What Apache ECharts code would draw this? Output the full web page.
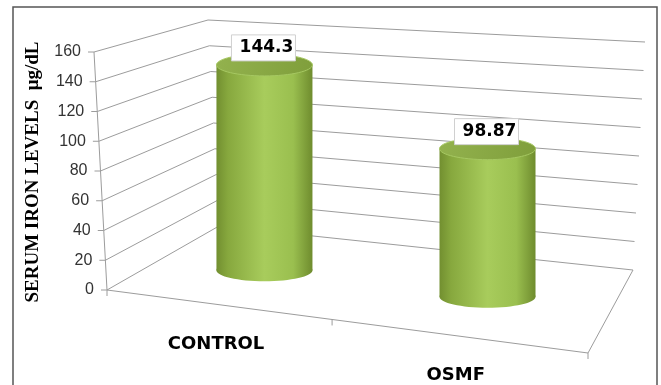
<!DOCTYPE html>
<html>
<head>
<meta charset="utf-8">
<script src="https://cdn.jsdelivr.net/npm/echarts@6/dist/echarts.min.js"></script>
<style>
html,body{margin:0;padding:0;background:#fff;}
#chart{width:661px;height:385px;}
</style>
</head>
<body>
<div id="chart"></div>
<script>
// ---- data ----
const categories = ['CONTROL', 'OSMF'];
const values = [144.3, 98.87];
const valueLabels = ['144.3', '98.87'];
const yTicks = [0, 20, 40, 60, 80, 100, 120, 140, 160];
const yTitle = 'SERUM IRON LEVELS  \u03bcg/dL';

// ---- perspective box (layout only) ----
const C = {
  FLB: [107, 290], FLT: [94, 52],
  FRB: [588, 353], FRT: [602, 88],
  BLB: [219, 226], BLT: [208, 20],
  BRB: [633, 270], BRT: [645, 42]
};
function lerp(a, b, s) { return [a[0] + (b[0] - a[0]) * s, a[1] + (b[1] - a[1]) * s]; }
function warp(u) { const k = 1.137; return u / (u + k * (1 - u)); }
function P(u, d, t) {
  const fb = lerp(C.FLB, C.FRB, u), ft = lerp(C.FLT, C.FRT, u);
  const bb = lerp(C.BLB, C.BRB, u), bt = lerp(C.BLT, C.BRT, u);
  const f = lerp(fb, ft, t), b = lerp(bb, bt, t);
  return lerp(f, b, d);
}
const GRID = '#9c9c9c';

function tOf(api, cs, v) {
  const y0 = api.coord([0, 0])[1];
  const yv = api.coord([0, v])[1];
  return (y0 - yv) / cs.height;
}

function renderGrid(params, api) {
  const cs = params.coordSys;
  const v = api.value(1);
  const t = tOf(api, cs, v);
  const a = P(0, 0, t), b = P(0, 1, t), c = P(1, 1, t);
  const ch = [
    { type: 'polyline', shape: { points: [a, b, c] }, style: { stroke: GRID, lineWidth: 1, fill: null } },
    { type: 'line', shape: { x1: a[0] - 6, y1: a[1], x2: a[0], y2: a[1] }, style: { stroke: GRID, lineWidth: 1 } },
    { type: 'text', style: { text: String(v), x: a[0] - 13, y: a[1], align: 'right', verticalAlign: 'middle',
        font: '16px "Liberation Sans", Arial, sans-serif', fill: '#333333' } }
  ];
  if (params.dataIndex === 0) {
    const fl = P(0, 0, 0), fr = P(1, 0, 0), br = P(1, 1, 0), lt = P(0, 0, 1);
    ch.push({ type: 'line', shape: { x1: fl[0], y1: fl[1], x2: fr[0], y2: fr[1] }, style: { stroke: GRID, lineWidth: 1 } });
    ch.push({ type: 'line', shape: { x1: fr[0], y1: fr[1], x2: br[0], y2: br[1] }, style: { stroke: GRID, lineWidth: 1 } });
    ch.push({ type: 'line', shape: { x1: fl[0], y1: fl[1], x2: lt[0], y2: lt[1] }, style: { stroke: GRID, lineWidth: 1 } });
    [0, 0.5, 1].forEach(function (u) {
      const p = P(warp(u), 0, 0);
      ch.push({ type: 'line', shape: { x1: p[0], y1: p[1], x2: p[0], y2: p[1] + 6 }, style: { stroke: GRID, lineWidth: 1 } });
    });
  }
  return { type: 'group', children: ch };
}

function renderCyl(params, api) {
  const cs = params.coordSys;
  const idx = api.value(0), v = api.value(1);
  const cx = api.coord([idx, v])[0];
  const u = warp((cx - cs.x) / cs.width);
  const t = tOf(api, cs, v);
  const bot = P(u, 0.5, 0), top = P(u, 0.5, t);
  const x = bot[0], yb = bot[1], yt = top[1];
  const rx = 48, ry = 11;
  const bodyGrad = new echarts.graphic.LinearGradient(0, 0, 1, 0, [
    { offset: 0, color: '#728f30' },
    { offset: 0.12, color: '#87a83e' },
    { offset: 0.5, color: '#a8cc5c' },
    { offset: 0.8, color: '#9abf4f' },
    { offset: 1, color: '#6f8c2e' }
  ]);
  const topGrad = new echarts.graphic.LinearGradient(0, 0, 1, 1, [
    { offset: 0, color: '#93b24e' },
    { offset: 1, color: '#7f9e3b' }
  ]);
  const front = P(u, 0, 0);
  const ch = [
    { type: 'rect', shape: { x: x - rx, y: yt, width: rx * 2, height: yb - yt }, style: { fill: bodyGrad } },
    { type: 'ellipse', shape: { cx: x, cy: yb, rx: rx, ry: ry }, style: { fill: bodyGrad } },
    { type: 'ellipse', shape: { cx: x, cy: yt, rx: rx, ry: ry }, style: { fill: topGrad, stroke: '#a6c862', lineWidth: 1 } },
    { type: 'rect', shape: { x: x - 33, y: yt - 4 - 26, width: 64, height: 26 },
      style: { fill: '#ffffff', stroke: '#d0d0d0', lineWidth: 1 } },
    { type: 'text', style: { text: valueLabels[idx], x: x + 2, y: yt - 4 - 13, align: 'center', verticalAlign: 'middle',
        font: 'bold 17px "DejaVu Sans", Arial, sans-serif', fill: '#000' } },
    { type: 'text', style: { text: categories[idx], x: front[0], y: front[1] + 40, align: 'center', verticalAlign: 'middle',
        font: 'bold 18px "DejaVu Sans", Arial, sans-serif', fill: '#000' } }
  ];
  return { type: 'group', children: ch };
}

const chart = echarts.init(document.getElementById('chart'), null, { renderer: 'canvas' });
chart.setOption({
  animation: false,
  backgroundColor: '#ffffff',
  grid: { left: 107, top: 52, width: 481, height: 238 },
  xAxis: { type: 'category', data: categories, show: false },
  yAxis: { type: 'value', min: 0, max: 160, interval: 20, show: false },
  graphic: [
    { type: 'rect', shape: { x: 13, y: 7, width: 644, height: 400 }, style: { fill: null, stroke: '#555', lineWidth: 1.5 }, silent: true },
    { type: 'text', rotation: Math.PI / 2, x: 33, y: 172,
      style: { text: yTitle, align: 'center', verticalAlign: 'middle', font: 'bold 19px "Liberation Serif", "Times New Roman", serif', fill: '#000' } }
  ],
  series: [
    { type: 'custom', z: 1, renderItem: renderGrid, data: yTicks.map(function (v) { return [0, v]; }), encode: { x: 0, y: 1 } },
    { type: 'custom', z: 3, renderItem: renderCyl, data: categories.map(function (c, i) { return [i, values[i]]; }), encode: { x: 0, y: 1 } }
  ]
});
</script>
</body>
</html>
